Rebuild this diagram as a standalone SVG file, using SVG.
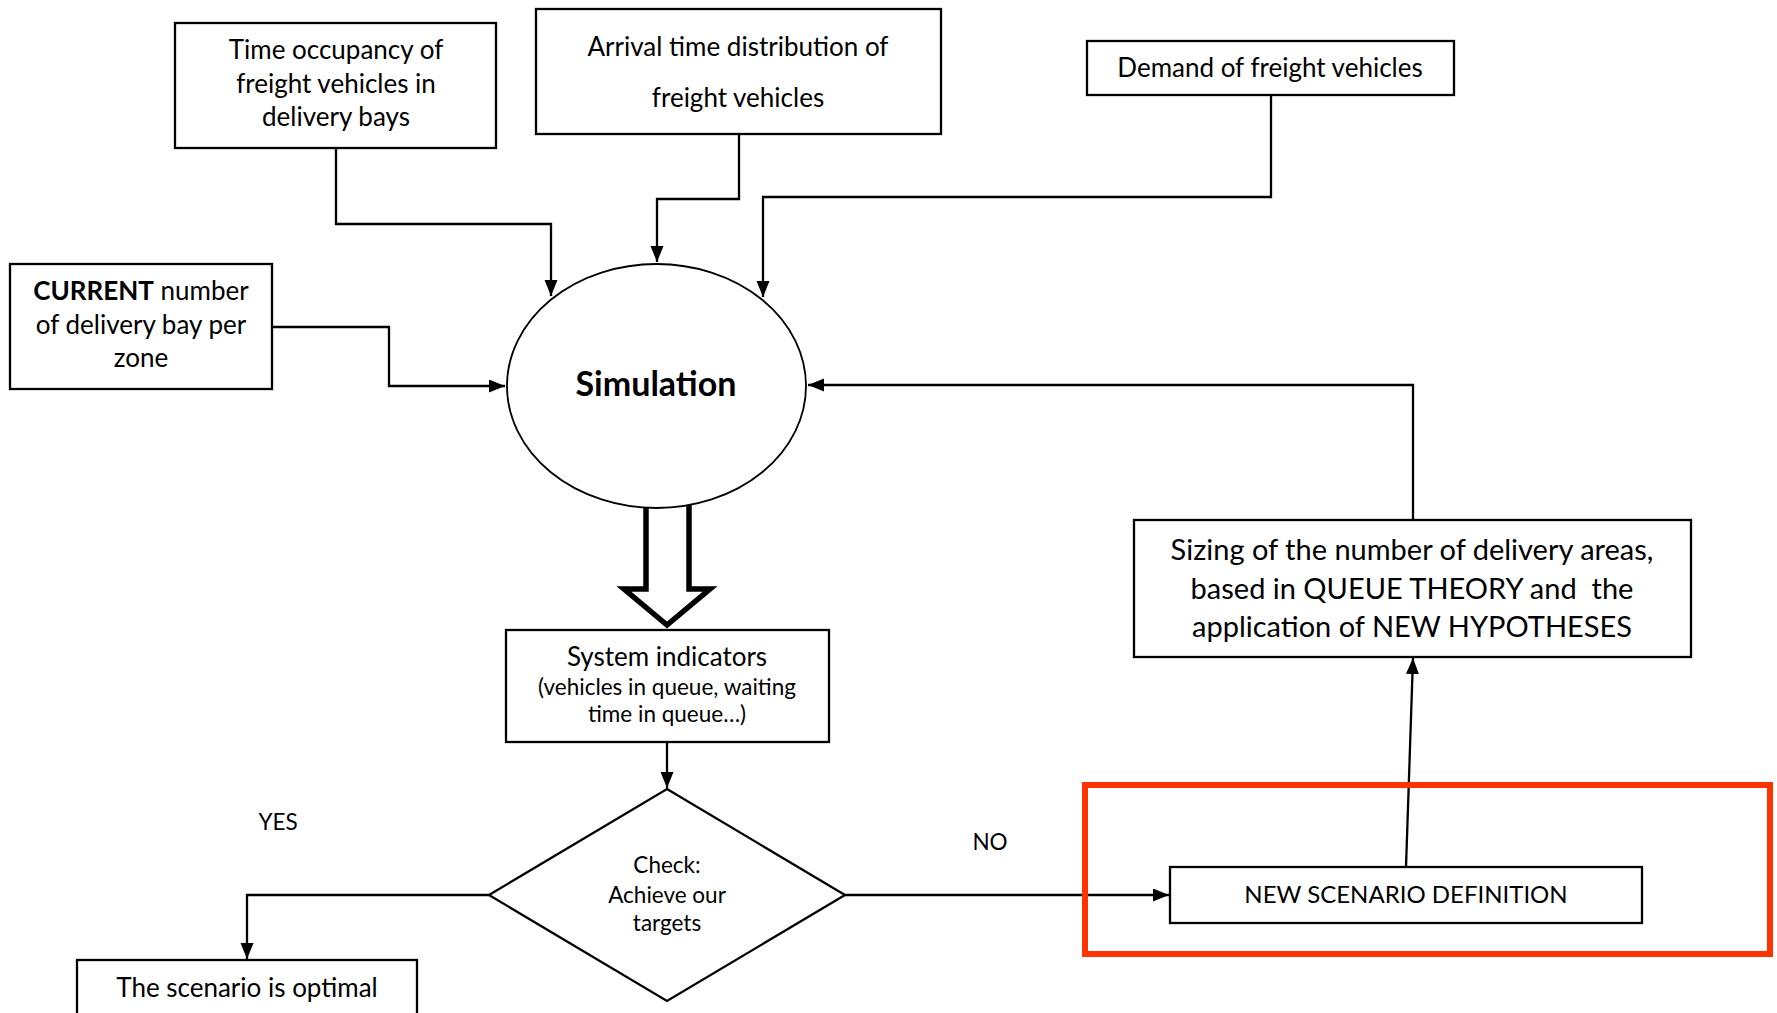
<svg xmlns="http://www.w3.org/2000/svg" width="1777" height="1013" viewBox="0 0 1777 1013">
<style>
.box{fill:#fff;stroke:#000;stroke-width:2.3}
.t{font-family:Lato,"Liberation Sans",sans-serif;font-size:26px;fill:#000;text-anchor:middle}
.s{font-size:22.5px}
.big{font-size:29px}
.sim{font-size:34px;font-weight:bold}
.nsd{font-size:24px}
.c{fill:none;stroke:#000;stroke-width:2.3}
</style>
<defs>
<marker id="ah" markerUnits="userSpaceOnUse" markerWidth="17" markerHeight="14" refX="16" refY="6.5" orient="auto">
<path d="M0,0 L16,6.5 L0,13 z" fill="#000"/>
</marker>
</defs>
<rect width="1777" height="1013" fill="#fff"/>

<g id="connectors">
<path class="c" d="M336,148 V224 H551 V296" marker-end="url(#ah)"/>
<path class="c" d="M739,134 V199 H657 V262" marker-end="url(#ah)"/>
<path class="c" d="M1271,95 V197 H763 V297" marker-end="url(#ah)"/>
<path class="c" d="M272,327 H389 V386 H505" marker-end="url(#ah)"/>
<path class="c" d="M1413,520 V385 H808" marker-end="url(#ah)"/>
<path class="c" d="M667,742 V788" marker-end="url(#ah)"/>
<path class="c" d="M489,895 H247 V959" marker-end="url(#ah)"/>
<path class="c" d="M845,895 H1169" marker-end="url(#ah)"/>
<path class="c" d="M1406,867 L1413,658" marker-end="url(#ah)"/>
<polygon id="block-arrow" points="646,495 646,589 624,589 667,625 710,589 689,589 689,495" fill="#fff" stroke="#000" stroke-width="5.5" stroke-linejoin="miter"/>
</g>

<g id="time-occupancy">
<rect class="box" x="175" y="23" width="321" height="125"/>
<text class="t" x="336" y="59">Time occupancy of</text>
<text class="t" x="336" y="93">freight vehicles in</text>
<text class="t" x="336" y="126">delivery bays</text>
</g>

<g id="arrival-time">
<rect class="box" x="536" y="9" width="405" height="125"/>
<text class="t" x="738" y="56">Arrival time distribution of</text>
<text class="t" x="738" y="107">freight vehicles</text>
</g>

<g id="demand">
<rect class="box" x="1087" y="41" width="367" height="54"/>
<text class="t" x="1270" y="77">Demand of freight vehicles</text>
</g>

<g id="current-number">
<rect class="box" x="10" y="264" width="262" height="125"/>
<text class="t" x="141" y="300"><tspan font-weight="bold">CURRENT</tspan> number</text>
<text class="t" x="141" y="334">of delivery bay per</text>
<text class="t" x="141" y="367">zone</text>
</g>

<g id="simulation">
<ellipse cx="656.5" cy="386" rx="149.5" ry="122" fill="#fff" stroke="#000" stroke-width="1.8"/>
<text class="t sim" x="656" y="396">Simulation</text>
</g>

<g id="system-indicators">
<rect class="box" x="506" y="630" width="323" height="112"/>
<text class="t" x="667" y="666">System indicators</text>
<text class="t s" x="667" y="695">(vehicles in queue, waiting</text>
<text class="t s" x="667" y="722">time in queue…)</text>
</g>

<g id="check">
<polygon points="667,789 845,895 667,1001 489,895" fill="#fff" stroke="#000" stroke-width="2.3"/>
<text class="t s" x="667" y="873">Check:</text>
<text class="t s" x="667" y="903">Achieve our</text>
<text class="t s" x="667" y="931">targets</text>
</g>

<g id="optimal">
<rect class="box" x="77" y="960" width="340" height="70"/>
<text class="t" x="247" y="997">The scenario is optimal</text>
</g>

<g id="labels">
<text class="t s" x="278" y="830">YES</text>
<text class="t s" x="990" y="850">NO</text>
</g>

<g id="sizing">
<rect class="box" x="1134" y="520" width="557" height="137"/>
<text class="t big" x="1412" y="560">Sizing of the number of delivery areas,</text>
<text class="t big" x="1412" y="599" xml:space="preserve">based in QUEUE THEORY and  the</text>
<text class="t big" x="1412" y="637">application of NEW HYPOTHESES</text>
</g>

<g id="new-scenario">
<rect class="box" x="1170" y="867" width="472" height="56"/>
<text class="t nsd" x="1406" y="903">NEW SCENARIO DEFINITION</text>
</g>

<g id="highlight">
<rect x="1085" y="785" width="685" height="169" fill="none" stroke="#FF3300" stroke-width="6"/>
</g>
</svg>
